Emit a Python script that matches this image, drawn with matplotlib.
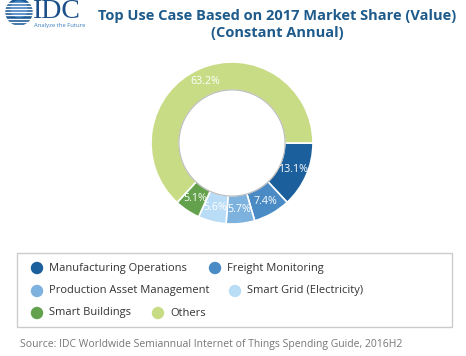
import matplotlib
matplotlib.use("Agg")
import matplotlib.pyplot as plt
import numpy as np
from matplotlib.patches import Rectangle, Circle

# Data
categories = ["Manufacturing Operations", "Freight Monitoring",
              "Production Asset Management", "Smart Grid (Electricity)",
              "Smart Buildings", "Others"]
shares = [13.1, 7.4, 5.7, 5.6, 5.1, 63.2]
colors = ["#1b5f9c", "#4a8bc5", "#7db2df", "#b9ddf7", "#64a14c", "#c8dc86"]

title_lines = ["Top Use Case Based on 2017 Market Share (Value)", "(Constant Annual)"]
source = "Source: IDC Worldwide Semiannual Internet of Things Spending Guide, 2016H2"

plt.rcParams["font.family"] = ["Open Sans", "DejaVu Sans"]

W, H = 466, 356
fig = plt.figure(figsize=(W / 100, H / 100), dpi=100)
fig.patch.set_facecolor("white")

# pixel-coordinate overlay
bg = fig.add_axes([0, 0, 1, 1])
bg.set_xlim(0, W)
bg.set_ylim(H, 0)
bg.axis("off")

# Donut
cx, cy, R = 232, 143, 81
ax = fig.add_axes([(cx - R) / W, (H - cy - R) / H, 2 * R / W, 2 * R / H])
wedges, texts = ax.pie(shares, colors=colors, startangle=0, counterclock=False,
                       radius=1, wedgeprops=dict(width=0.35, edgecolor="white", linewidth=1.2))
for w, v in zip(wedges, shares):
    ang = np.deg2rad((w.theta1 + w.theta2) / 2)
    r = 1 - 0.35 / 2
    ax.text(r * np.cos(ang), r * np.sin(ang), "{:.1f}%".format(v), color="white",
            ha="center", va="center", fontsize=7.7)
ax.add_patch(Circle((0, 0), 0.655, fill=False, edgecolor="#bbbbbb", linewidth=0.8))
ax.set_xlim(-1, 1)
ax.set_ylim(-1, 1)
ax.axis("off")

# Title
bg.text(277, 16, title_lines[0], ha="center", va="center", fontsize=10.5,
        fontweight="bold", color="#1e5a8a")
bg.text(277, 33, title_lines[1], ha="center", va="center", fontsize=10.5,
        fontweight="bold", color="#1e5a8a")

# Logo
bg.add_patch(Circle((19, 12), 13, color="#1c5a96", zorder=2))
bg.add_patch(Circle((19, 9), 8, color="#3f7fc0", zorder=2))
for yy in np.arange(2.5, 25, 3.2):
    bg.plot([3, 36], [yy, yy], color="white", linewidth=1.0, zorder=3)
bg.text(33, 11, "IDC", family="Liberation Serif", fontsize=20, color="#1c4f8a",
        ha="left", va="center")
bg.text(34, 25, "Analyze the Future", fontsize=4.2, color="#3a7cc0", ha="left", va="center")

# Legend
bg.add_patch(Rectangle((17, 253), 435, 74, fill=False, edgecolor="#cccccc", linewidth=1))
leg_pos = [(37, 268), (215, 268), (37, 291), (235, 291), (37, 313), (158, 313)]
for (lx, ly), name, c in zip(leg_pos, categories, colors):
    bg.scatter([lx], [ly], s=80, color=c, edgecolors="none")
    bg.text(lx + 12, ly, name, ha="left", va="center", fontsize=8, color="#333333")

bg.text(20, 345, source, ha="left", va="center", fontsize=7.5, color="#777777")

fig.savefig("out.png", dpi=100)
